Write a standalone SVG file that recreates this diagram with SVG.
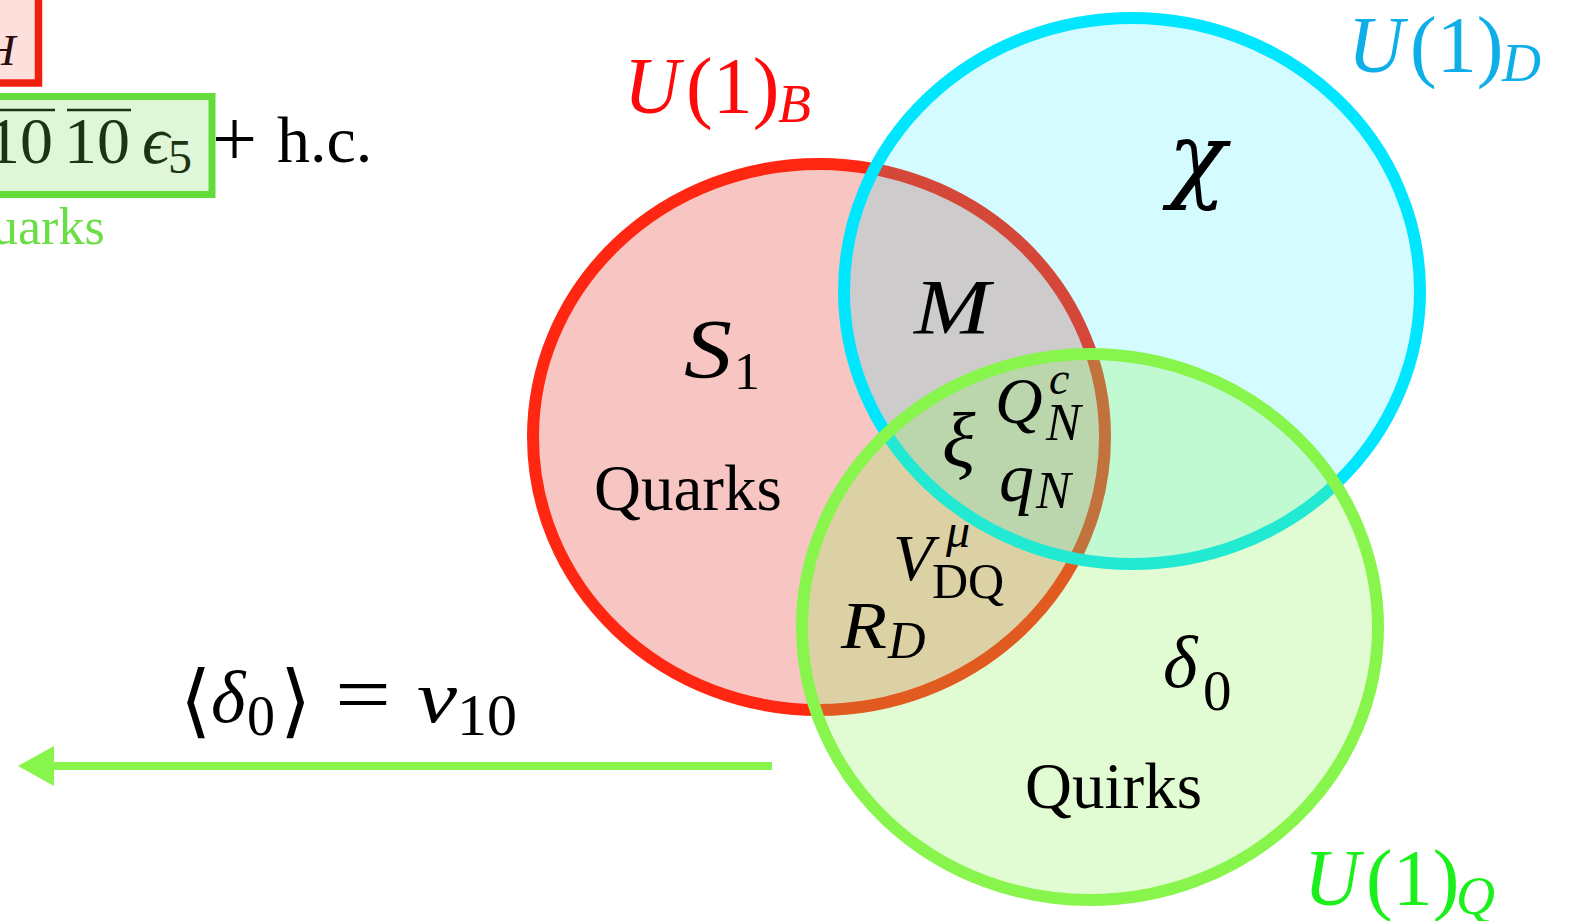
<svg xmlns="http://www.w3.org/2000/svg" width="1574" height="921" viewBox="0 0 1574 921">
  <style>
    .m { font-family: "Liberation Serif", "DejaVu Serif", serif; font-style: italic; }
    .g { font-family: "DejaVu Serif", "Liberation Serif", serif; font-style: italic; }
    .r { font-family: "Liberation Serif", "DejaVu Serif", serif; font-style: normal; }
    .br { font-family: "DejaVu Serif", "DejaVu Sans", "Liberation Serif", serif; font-style: normal; }
    .ring { stroke-width: 12; }
  </style>
  <defs>
    <marker id="arrowhead" viewBox="0 0 36 40" refX="2" refY="20" markerWidth="36" markerHeight="40" markerUnits="userSpaceOnUse" orient="auto">
      <polygon points="0,0 36,20 0,40" fill="#88f54c"/>
    </marker>
  </defs>

  <rect width="1574" height="921" fill="#ffffff"/>

  <!-- top-left partial equation -->
  <g id="eq-box-red">
    <rect x="-20" y="-20" width="58.5" height="103" fill="#fde0dc" stroke="#f02010" stroke-width="7.5"/>
    <text class="m" x="-17" y="65" font-size="45" fill="#2b0d0d">H</text>
  </g>
  <g id="eq-box-green">
    <rect x="-20" y="96.5" width="232" height="98" fill="#dff7d8" stroke="#62dc3a" stroke-width="7"/>
    <text class="r" x="-13" y="163" font-size="66" fill="#1c3414">10</text>
    <text class="r" x="64" y="163" font-size="66" fill="#1c3414">10</text>
    <line x1="0" y1="110" x2="55" y2="110" stroke="#1c3414" stroke-width="2.5"/>
    <line x1="67" y1="110" x2="131" y2="110" stroke="#1c3414" stroke-width="2.5"/>
    <text class="m" x="142" y="163" font-size="68" fill="#1c3414">ϵ</text>
    <text class="r" x="168" y="173" font-size="48" fill="#1c3414">5</text>
  </g>
  <g id="eq-hc">
    <text class="r" x="212" y="166" font-size="80" fill="#000">+</text>
    <text class="r" x="277" y="162" font-size="66" fill="#000">h.c.</text>
  </g>
  <g id="eq-quarks-label">
    <text class="r" x="-8" y="244" font-size="52" fill="#6bdd45">uarks</text>
  </g>

  <!-- sets -->
  <g id="set-B">
    <ellipse class="ring" cx="819" cy="437" rx="286" ry="273" fill="#f7c6c2" stroke="#ff2712"/>
  </g>
  <g id="set-D">
    <ellipse class="ring" cx="1132" cy="291" rx="288" ry="273" fill="#00e6ff" fill-opacity="0.17" stroke="#00e6ff"/>
  </g>
  <g id="set-Q">
    <ellipse class="ring" cx="1090" cy="627" rx="288" ry="273" fill="#88f54c" fill-opacity="0.25" stroke="#88f54c"/>
  </g>

  <!-- set titles -->
  <g id="label-U1B">
    <text class="m" x="624" y="113" font-size="80" fill="#ff0a0a" textLength="56" lengthAdjust="spacingAndGlyphs">U</text>
    <text class="r" x="686" y="113" font-size="80" fill="#ff0a0a">(1)</text>
    <text class="m" x="778" y="122" font-size="54" fill="#ff0a0a">B</text>
  </g>
  <g id="label-U1D">
    <text class="m" x="1348" y="72" font-size="80" fill="#0eaee8" textLength="56" lengthAdjust="spacingAndGlyphs">U</text>
    <text class="r" x="1410" y="72" font-size="80" fill="#0eaee8">(1)</text>
    <text class="m" x="1502" y="81" font-size="54" fill="#0eaee8">D</text>
  </g>
  <g id="label-U1Q">
    <text class="m" x="1304" y="905" font-size="80" fill="#1cf01c" textLength="56" lengthAdjust="spacingAndGlyphs">U</text>
    <text class="r" x="1366" y="905" font-size="80" fill="#1cf01c">(1)</text>
    <text class="m" x="1456" y="914" font-size="54" fill="#1cf01c">Q</text>
  </g>

  <!-- region contents -->
  <g id="region-S1">
    <text class="m" x="684" y="378" font-size="84" fill="#000" textLength="48" lengthAdjust="spacingAndGlyphs">S</text>
    <text class="r" x="734" y="389" font-size="52" fill="#000">1</text>
  </g>
  <g id="region-quarks">
    <text class="r" x="594" y="510" font-size="65" fill="#000">Quarks</text>
  </g>
  <g id="region-M">
    <text class="m" x="914" y="333" font-size="78" fill="#000" textLength="76" lengthAdjust="spacingAndGlyphs">M</text>
  </g>
  <g id="region-chi">
    <text class="g" x="1168" y="190" font-size="96" fill="#000">χ</text>
  </g>
  <g id="region-QcN">
    <text class="m" x="995" y="423" font-size="66" fill="#000">Q</text>
    <text class="m" x="1049" y="394" font-size="46" fill="#000">c</text>
    <text class="m" x="1046" y="440" font-size="52" fill="#000">N</text>
  </g>
  <g id="region-xi">
    <text class="m" x="942" y="467" font-size="78" fill="#000">ξ</text>
  </g>
  <g id="region-qN">
    <text class="m" x="999" y="501" font-size="70" fill="#000">q</text>
    <text class="m" x="1036" y="508" font-size="52" fill="#000">N</text>
  </g>
  <g id="region-VDQ">
    <text class="m" x="893" y="580" font-size="66" fill="#000">V</text>
    <text class="m" x="946" y="547" font-size="48" fill="#000">μ</text>
    <text class="r" x="932" y="598" font-size="50" fill="#000">DQ</text>
  </g>
  <g id="region-RD">
    <text class="m" x="841" y="648" font-size="68" fill="#000" textLength="46" lengthAdjust="spacingAndGlyphs">R</text>
    <text class="m" x="888" y="658" font-size="52" fill="#000">D</text>
  </g>
  <g id="region-delta0">
    <text class="m" x="1163" y="687" font-size="74" fill="#000">δ</text>
    <text class="r" x="1203" y="710" font-size="57" fill="#000">0</text>
  </g>
  <g id="region-quirks">
    <text class="r" x="1025" y="808" font-size="65" fill="#000">Quirks</text>
  </g>

  <!-- vev label -->
  <g id="label-vev">
    <text class="br" x="180" y="728" font-size="80" fill="#000">⟨</text>
    <text class="m" x="211" y="722" font-size="74" fill="#000">δ</text>
    <text class="r" x="247" y="735" font-size="56" fill="#000">0</text>
    <text class="br" x="280" y="728" font-size="80" fill="#000">⟩</text>
    <text class="r" x="335" y="722" font-size="82" fill="#000" textLength="56" lengthAdjust="spacingAndGlyphs">=</text>
    <text class="m" x="417" y="722" font-size="74" fill="#000" textLength="40" lengthAdjust="spacingAndGlyphs">v</text>
    <text class="r" x="457" y="735" font-size="60" fill="#000">10</text>
  </g>

  <!-- connectors -->
  <g id="connectors">
    <line x1="772" y1="766" x2="52" y2="766" stroke="#88f54c" stroke-width="8" marker-end="url(#arrowhead)"/>
  </g>
</svg>
